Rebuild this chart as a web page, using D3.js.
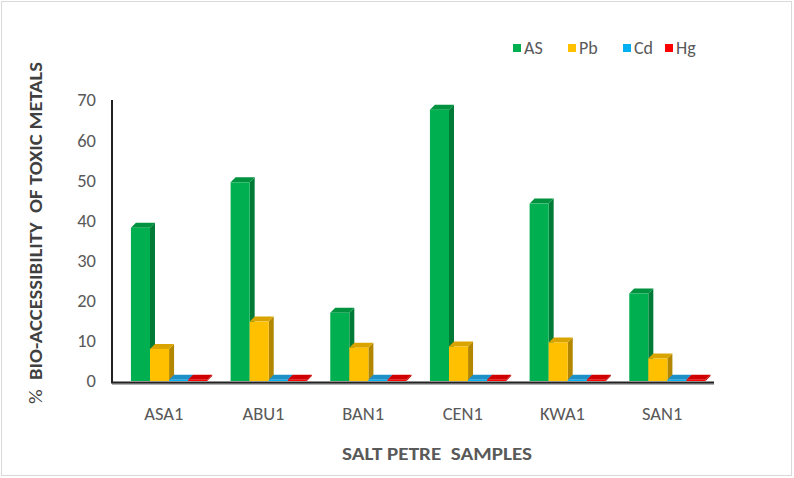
<!DOCTYPE html>
<html>
<head>
<meta charset="utf-8">
<script src="https://cdn.jsdelivr.net/npm/d3@7"></script>
<style>
  body { margin: 0; background: #fff; }
  text { font-family: Carlito, Lato, "Open Sans", sans-serif; }
</style>
</head>
<body>
<div class="barchart"></div>
<script>
var svgWidth = 794;
var svgHeight = 478;

// data
var samples = ["ASA1", "ABU1", "BAN1", "CEN1", "KWA1", "SAN1"];
var metals = ["AS", "Pb", "Cd", "Hg"];
var asValues = [38.2, 49.5, 17.0, 67.6, 44.2, 21.8];
var pbValues = [8.0, 14.8, 8.3, 8.6, 9.6, 5.6];
var cdValues = [0.3, 0.3, 0.3, 0.3, 0.3, 0.3];
var hgValues = [0.3, 0.3, 0.3, 0.3, 0.3, 0.3];
var yTicks = [0, 10, 20, 30, 40, 50, 60, 70];

var seriesValues = { AS: asValues, Pb: pbValues, Cd: cdValues, Hg: hgValues };
var frontColor = { AS: "#00B050", Pb: "#FFC000", Cd: "#00B0F0", Hg: "#FF0000" };
var sideColor = { AS: "#007A37", Pb: "#B38600", Cd: "#007BA8", Hg: "#B30000" };
var topColor = { AS: "#00923F", Pb: "#D9A300", Cd: "#1E90C8", Hg: "#D00000" };

var margin = { top: 100, right: 84, bottom: 97, left: 112 };
var width = svgWidth - margin.left - margin.right;
var height = svgHeight - margin.top - margin.bottom;

var svg = d3.select(".barchart")
  .append("svg")
  .attr("width", svgWidth)
  .attr("height", svgHeight);

// outer frame
svg.append("rect")
  .attr("x", 1.5).attr("y", 1.5)
  .attr("width", svgWidth - 4).attr("height", svgHeight - 4)
  .attr("fill", "none")
  .attr("stroke", "#d9d9d9")
  .attr("stroke-width", 1);

var chartGroup = svg.append("g")
  .attr("transform", `translate(${margin.left}, ${margin.top})`);

var x0 = d3.scaleBand()
  .domain(samples)
  .range([0, width]);

var bw = x0.bandwidth();
var x1 = d3.scaleBand()
  .domain(metals)
  .range([bw * 0.19, bw * 0.955]);

var y = d3.scaleLinear()
  .domain([0, 70])
  .range([height, 0]);

// depth offset of the 3D bars
var dx = 5, dy = 5;

// y tick labels (no tick marks in the reference)
chartGroup.selectAll(".ytick")
  .data(yTicks)
  .enter()
  .append("text")
  .attr("class", "ytick")
  .attr("x", -16)
  .attr("y", d => y(d))
  .attr("dy", "0.35em")
  .attr("text-anchor", "end")
  .attr("font-size", 18.5)
  .attr("fill", "#595959")
  .text(d => d);

// bars
var groups = chartGroup.selectAll(".group")
  .data(samples)
  .enter()
  .append("g")
  .attr("class", "group")
  .attr("transform", d => `translate(${x0(d)}, 0)`);

metals.forEach(function(m) {
  var bars = groups.append("g")
    .datum((d, i) => ({ sample: d, value: seriesValues[m][i] }));
  var w = x1.bandwidth();
  var x = x1(m);

  bars.append("path")
    .attr("fill", sideColor[m])
    .attr("d", d => {
      var yv = y(d.value), y0 = y(0);
      return `M${x + w},${yv} L${x + w + dx},${yv - dy} L${x + w + dx},${y0 - dy} L${x + w},${y0} Z`;
    });

  bars.append("path")
    .attr("fill", topColor[m])
    .attr("d", d => {
      var yv = y(d.value);
      return `M${x},${yv} L${x + dx},${yv - dy} L${x + w + dx},${yv - dy} L${x + w},${yv} Z`;
    });

  bars.append("rect")
    .attr("x", x)
    .attr("y", d => y(d.value))
    .attr("width", w)
    .attr("height", d => y(0) - y(d.value))
    .attr("fill", frontColor[m]);
});

// axis lines
chartGroup.append("line")
  .attr("x1", 0).attr("x2", 0)
  .attr("y1", 0).attr("y2", height + 1)
  .attr("stroke", "#222")
  .attr("stroke-width", 2);

chartGroup.append("line")
  .attr("x1", 0).attr("x2", width + 4)
  .attr("y1", height + 3).attr("y2", height + 3)
  .attr("stroke", "#999")
  .attr("stroke-width", 1.5);

chartGroup.append("line")
  .attr("x1", -1).attr("x2", width + 4)
  .attr("y1", height + 1.5).attr("y2", height + 1.5)
  .attr("stroke", "#222")
  .attr("stroke-width", 2);

// x category labels
chartGroup.selectAll(".xtick")
  .data(samples)
  .enter()
  .append("text")
  .attr("class", "xtick")
  .attr("x", d => x0(d) + bw * 0.52)
  .attr("y", height + 33)
  .attr("dy", "0.35em")
  .attr("text-anchor", "middle")
  .attr("font-size", 18.5)
  .attr("fill", "#595959")
  .text(d => d);

// axis titles
svg.append("text")
  .attr("x", 437)
  .attr("y", 453)
  .attr("dy", "0.35em")
  .attr("text-anchor", "middle")
  .attr("font-size", 19)
  .attr("font-weight", "bold")
  .attr("fill", "#595959")
  .style("white-space", "pre")
  .attr("textLength", 190)
  .attr("lengthAdjust", "spacingAndGlyphs")
  .text("SALT PETRE  SAMPLES");

var yTitle = svg.append("text")
  .attr("transform", "translate(36, 233) rotate(-90)")
  .attr("text-anchor", "middle")
  .attr("dy", "0.35em")
  .attr("font-size", 18)
  .attr("fill", "#404040")
  .style("white-space", "pre")
  .attr("textLength", 342)
  .attr("lengthAdjust", "spacingAndGlyphs");

yTitle.append("tspan").text("%  ");
yTitle.append("tspan")
  .attr("font-weight", "bold")
  .text("BIO-ACCESSIBILITY  OF TOXIC METALS");

// legend
var legendX = [513, 568, 623, 665];
var legend = svg.selectAll(".legend")
  .data(metals)
  .enter()
  .append("g")
  .attr("class", "legend")
  .attr("transform", (d, i) => `translate(${legendX[i]}, 48)`);

legend.append("rect")
  .attr("x", 0).attr("y", -4)
  .attr("width", 8).attr("height", 8)
  .attr("fill", d => frontColor[d]);

legend.append("text")
  .attr("x", 11)
  .attr("y", 0)
  .attr("dy", "0.35em")
  .attr("font-size", 18)
  .attr("fill", "#595959")
  .text(d => d);
</script>
</body>
</html>
